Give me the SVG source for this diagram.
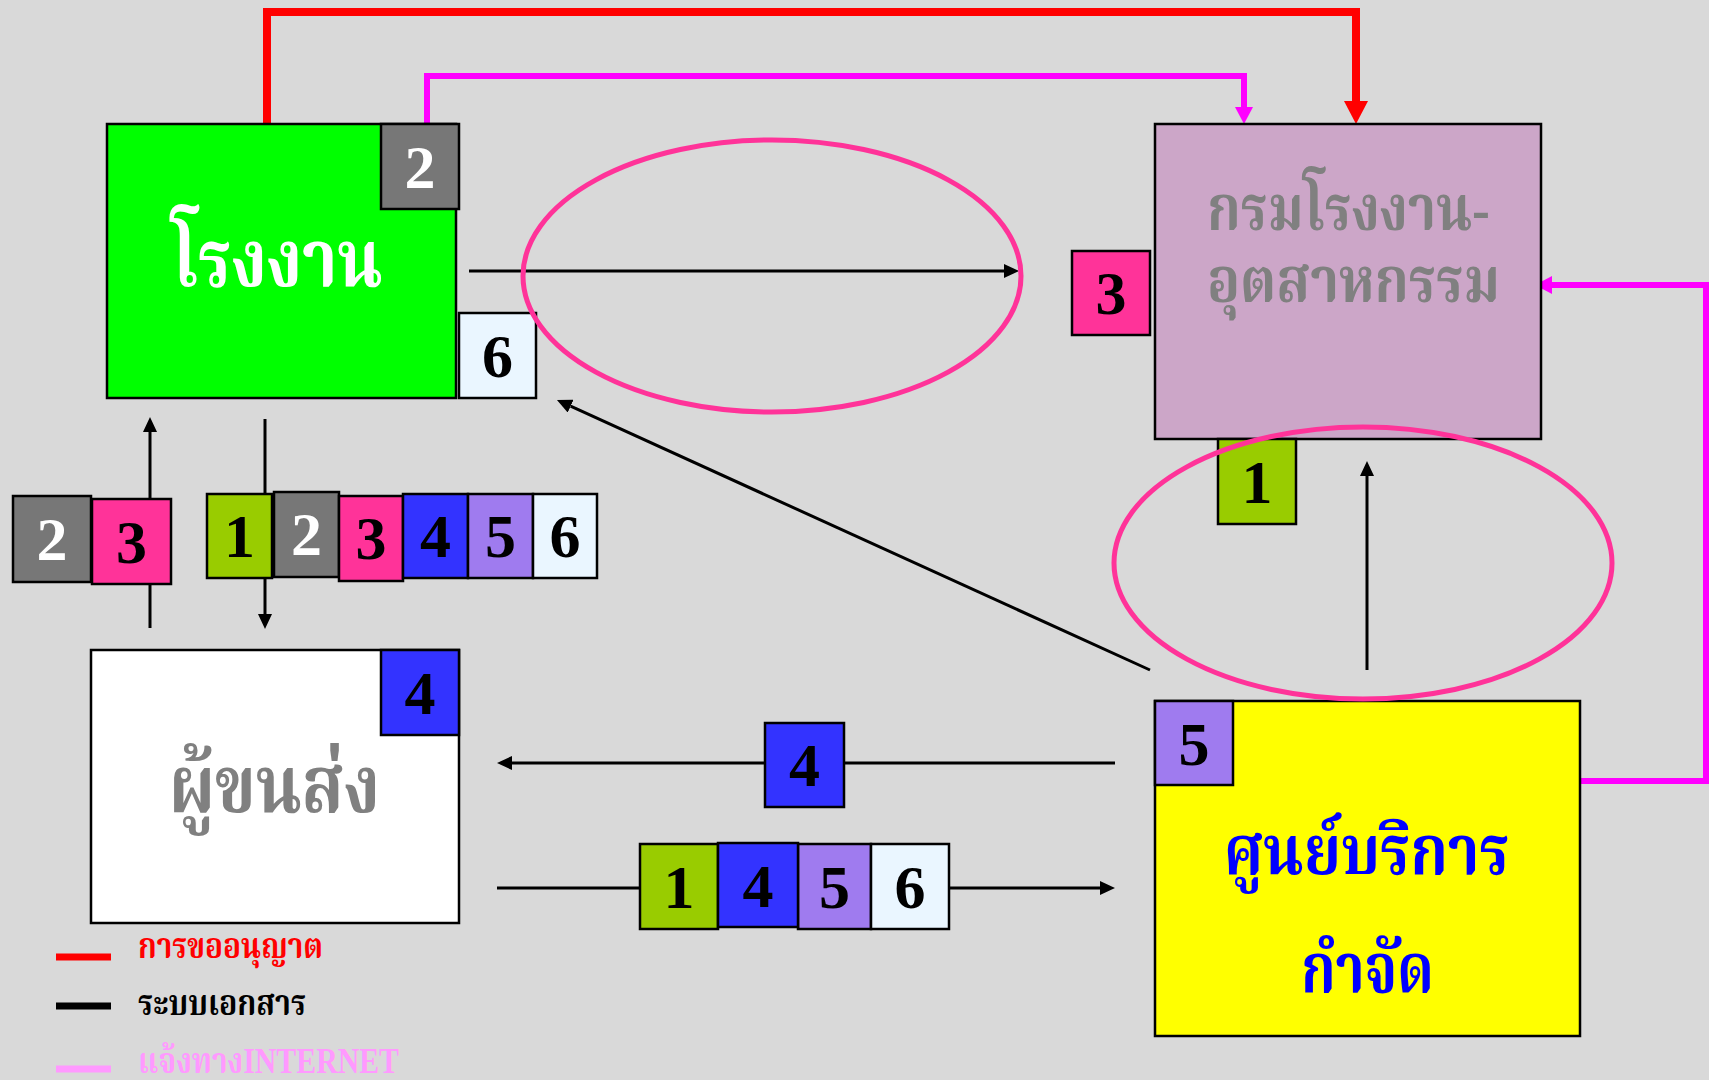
<svg xmlns="http://www.w3.org/2000/svg" width="1709" height="1080" viewBox="0 0 1709 1080">
<defs>
<style>
.box{stroke:#000;stroke-width:2.5}
.bd{stroke:#000;stroke-width:2.5}
.num{font-family:"Liberation Serif","Times New Roman",serif;font-weight:bold;font-size:62px;text-anchor:middle}
.th{font-family:"Liberation Serif","Noto Serif Thai","Noto Sans Thai",serif;font-weight:bold;text-anchor:middle}
.lg{font-family:"Liberation Serif","Noto Serif Thai","Noto Sans Thai",serif;font-weight:bold;font-size:36px}
.blk{fill:none;stroke:#000;stroke-width:3}
.ell{fill:none;stroke:#FF3399;stroke-width:5}
</style>
<marker id="ab" markerWidth="15" markerHeight="14" refX="0" refY="7" orient="auto" markerUnits="userSpaceOnUse"><path d="M0,0 L15,7 L0,14 z" fill="#000"/></marker>
<marker id="ar" markerWidth="23" markerHeight="24" refX="0" refY="12" orient="auto" markerUnits="userSpaceOnUse"><path d="M0,0 L23,12 L0,24 z" fill="#FF0000"/></marker>
<marker id="am" markerWidth="17" markerHeight="18" refX="0" refY="9" orient="auto" markerUnits="userSpaceOnUse"><path d="M0,0 L17,9 L0,18 z" fill="#FF00FF"/></marker>
</defs>
<rect x="0" y="0" width="1709" height="1080" fill="#D9D9D9"/>

<g id="connectors">
<path d="M267,125 V12 H1356 V101" fill="none" stroke="#FF0000" stroke-width="8" marker-end="url(#ar)"/>
<path d="M427,125 V76 H1244 V107" fill="none" stroke="#FF00FF" stroke-width="6" marker-end="url(#am)"/>
<path d="M1579,781 H1706 V285 H1552" fill="none" stroke="#FF00FF" stroke-width="6" marker-end="url(#am)"/>
<path class="blk" d="M469,271 H1004" marker-end="url(#ab)"/>
<path class="blk" d="M1150,670 L570.6,406.2" marker-end="url(#ab)"/>
<path class="blk" d="M1367,670 V476" marker-end="url(#ab)"/>
<path class="blk" d="M150,628 V432" marker-end="url(#ab)"/>
<path class="blk" d="M265,419 V614" marker-end="url(#ab)"/>
<path class="blk" d="M1115,763 H512" marker-end="url(#ab)"/>
<path class="blk" d="M497,888 H1100" marker-end="url(#ab)"/>
</g>

<g id="factory">
<rect class="box" x="107" y="124" width="349" height="274" fill="#00FF00"/>
<text class="th" x="277" y="286" font-size="80" fill="#FFFFFF" textLength="211" lengthAdjust="spacingAndGlyphs">โรงงาน</text>
<rect class="bd" x="381" y="124" width="78" height="85" fill="#777777"/>
<text class="num" x="420" y="188" fill="#FFFFFF">2</text>
<rect class="bd" x="459" y="313" width="77" height="85" fill="#EAF6FF"/>
<text class="num" x="497.5" y="377" fill="#000">6</text>
</g>

<g id="department">
<rect class="box" x="1155" y="124" width="386" height="315" fill="#CCA6C8"/>
<text class="th" x="1348.5" y="230" font-size="62" fill="#808080" textLength="283" lengthAdjust="spacingAndGlyphs">กรมโรงงาน-</text>
<text class="th" x="1353.5" y="302" font-size="62" fill="#808080" textLength="293" lengthAdjust="spacingAndGlyphs">อุตสาหกรรม</text>
<rect class="bd" x="1072" y="251" width="78" height="84" fill="#FF3399"/>
<text class="num" x="1111" y="314" fill="#000">3</text>
<rect class="bd" x="1218" y="439" width="78" height="85" fill="#99CC00"/>
<text class="num" x="1257" y="503" fill="#000">1</text>
</g>

<g id="transporter">
<rect class="box" x="91" y="650" width="368" height="273" fill="#FFFFFF"/>
<text class="th" x="274.5" y="812" font-size="80" fill="#808080" textLength="211" lengthAdjust="spacingAndGlyphs">ผู้ขนส่ง</text>
<rect class="bd" x="381" y="650" width="78" height="85" fill="#3333FF"/>
<text class="num" x="420" y="714" fill="#000">4</text>
</g>

<g id="disposal">
<rect class="box" x="1155" y="701" width="425" height="335" fill="#FFFF00"/>
<rect class="bd" x="1155" y="701" width="78" height="84" fill="#9F7BEF"/>
<text class="num" x="1194" y="765" fill="#000">5</text>
<text class="th" x="1366.5" y="874" font-size="70" fill="#0000FF" textLength="286" lengthAdjust="spacingAndGlyphs">ศูนย์บริการ</text>
<text class="th" x="1367.5" y="992" font-size="70" fill="#0000FF" textLength="133" lengthAdjust="spacingAndGlyphs">กำจัด</text>
</g>

<g id="stack-left">
<rect class="bd" x="13" y="496" width="78" height="86" fill="#777777"/>
<text class="num" x="52" y="560" fill="#FFFFFF">2</text>
<rect class="bd" x="92" y="499" width="79" height="85" fill="#FF3399"/>
<text class="num" x="131.5" y="563" fill="#000">3</text>
</g>

<g id="stack-top">
<rect class="bd" x="207" y="494" width="65" height="84" fill="#99CC00"/>
<text class="num" x="239.5" y="557" fill="#000">1</text>
<rect class="bd" x="274" y="492" width="65" height="85" fill="#777777"/>
<text class="num" x="306.5" y="555" fill="#FFFFFF">2</text>
<rect class="bd" x="339" y="496" width="64" height="85" fill="#FF3399"/>
<text class="num" x="371" y="559" fill="#000">3</text>
<rect class="bd" x="403" y="494" width="65" height="84" fill="#3333FF"/>
<text class="num" x="435.5" y="557" fill="#000">4</text>
<rect class="bd" x="468" y="494" width="65" height="84" fill="#9F7BEF"/>
<text class="num" x="500.5" y="557" fill="#000">5</text>
<rect class="bd" x="533" y="494" width="64" height="84" fill="#EAF6FF"/>
<text class="num" x="565" y="557" fill="#000">6</text>
</g>

<g id="stack-mid">
<rect class="bd" x="765" y="723" width="79" height="84" fill="#3333FF"/>
<text class="num" x="804.5" y="786" fill="#000">4</text>
</g>

<g id="stack-bottom">
<rect class="bd" x="640" y="844" width="78" height="85" fill="#99CC00"/>
<text class="num" x="679" y="908" fill="#000">1</text>
<rect class="bd" x="798" y="844" width="73" height="85" fill="#9F7BEF"/>
<text class="num" x="834.5" y="908" fill="#000">5</text>
<rect class="bd" x="871" y="844" width="78" height="85" fill="#EAF6FF"/>
<text class="num" x="910" y="908" fill="#000">6</text>
<rect class="bd" x="718" y="843" width="80" height="84" fill="#3333FF"/>
<text class="num" x="758" y="907" fill="#000">4</text>
</g>

<g id="ellipses">
<ellipse class="ell" cx="772" cy="276" rx="249" ry="136"/>
<ellipse class="ell" cx="1363" cy="563" rx="249" ry="136"/>
</g>

<g id="legend">
<line x1="56" y1="957" x2="111" y2="957" stroke="#FF0000" stroke-width="7"/>
<text class="lg" x="138" y="958" fill="#FF0000" textLength="185" lengthAdjust="spacingAndGlyphs">การขออนุญาต</text>
<line x1="56" y1="1006" x2="111" y2="1006" stroke="#000" stroke-width="7"/>
<text class="lg" x="138" y="1015" fill="#000" textLength="168" lengthAdjust="spacingAndGlyphs">ระบบเอกสาร</text>
<line x1="56" y1="1069" x2="111" y2="1069" stroke="#FF99FF" stroke-width="7"/>
<text class="lg" x="138" y="1073" fill="#FF99FF" textLength="261" lengthAdjust="spacingAndGlyphs">แจ้งทางINTERNET</text>
</g>
</svg>
